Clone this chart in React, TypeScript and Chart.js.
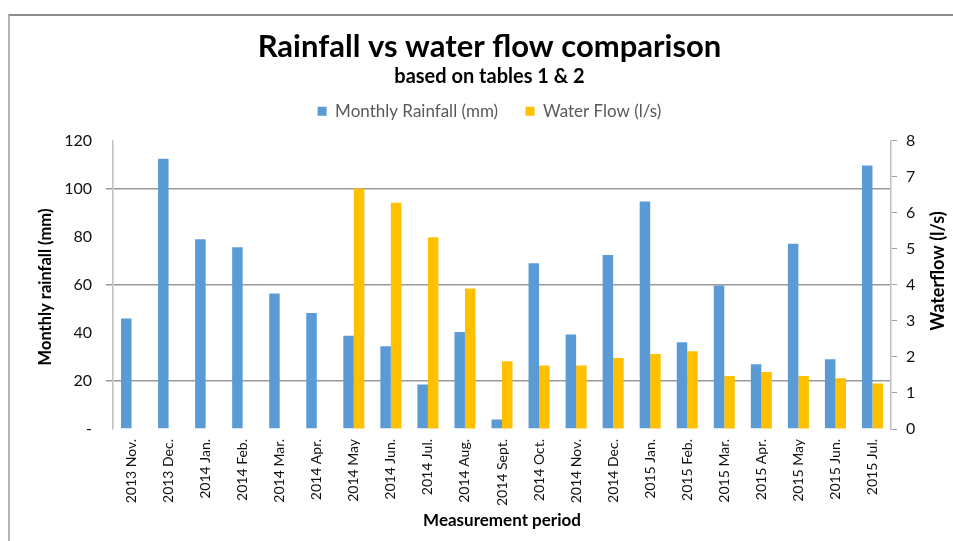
import React, { useEffect, useRef } from "react";
import { Chart, registerables, layouts } from "chart.js";

Chart.register(...registerables);

const categories = [
  "2013 Nov.", "2013 Dec.", "2014 Jan.", "2014 Feb.", "2014 Mar.", "2014 Apr.",
  "2014 May", "2014 Jun.", "2014 Jul.", "2014 Aug.", "2014 Sept.", "2014 Oct.",
  "2014 Nov.", "2014 Dec.", "2015 Jan.", "2015 Feb.", "2015 Mar.", "2015 Apr.",
  "2015 May", "2015 Jun.", "2015 Jul.",
];
const rainfall = [46, 112.5, 79, 75.6, 56.4, 48.3, 38.8, 34.4, 18.5, 40.4, 4.0, 69, 39.3, 72.4, 94.7, 36.1, 59.7, 26.9, 77.1, 29, 109.7];
const waterflow = [null, null, null, null, null, null, 6.67, 6.28, 5.32, 3.9, 1.88, 1.76, 1.76, 1.97, 2.08, 2.16, 1.47, 1.58, 1.47, 1.41, 1.26];
const leftGridValues = [20, 60, 100];

const titleText = "Rainfall vs water flow comparison";
const subtitleText = "based on tables 1 & 2";
const seriesNames = ["Monthly Rainfall (mm)", "Water Flow (l/s)"];
const leftAxisTitle = "Monthly rainfall (mm)";
const rightAxisTitle = "Waterflow (l/s)";
const xAxisTitle = "Measurement period";

const FONT = "Lato, 'Open Sans', sans-serif";

export default function App() {
  const ref = useRef<HTMLCanvasElement | null>(null);

  useEffect(() => {
    const canvas = ref.current;
    if (!canvas) return;

    // empty layout box between the legend and the plot area
    const spacer = {
      id: "spacer",
      start(chart: any) {
        const box: any = {
          options: {},
          position: "top",
          weight: 500,
          fullSize: true,
          left: 0, top: 0, right: 0, bottom: 0, width: 0, height: 0,
          isHorizontal() { return true; },
          update(maxWidth: number) { this.width = maxWidth; this.height = 11; },
          draw() {},
        };
        layouts.addBox(chart, box);
      },
    };

    const axisTitles = {
      id: "axisTitles",
      afterDraw(chart: any) {
        const { ctx, chartArea } = chart;
        ctx.save();
        ctx.fillStyle = "#000";
        ctx.textAlign = "center";
        ctx.textBaseline = "middle";
        ctx.save();
        ctx.font = `bold 16.5px ${FONT}`;
        ctx.translate(37, 287);
        ctx.rotate(-Math.PI / 2);
        ctx.fillText(leftAxisTitle, 0, 0);
        ctx.restore();
        ctx.save();
        ctx.font = `bold 18px ${FONT}`;
        ctx.translate(929, 271);
        ctx.rotate(-Math.PI / 2);
        ctx.fillText(rightAxisTitle, 0, 0);
        ctx.restore();
        ctx.font = `bold 17px ${FONT}`;
        ctx.fillText(xAxisTitle, (chartArea.left + chartArea.right) / 2, 521);
        ctx.restore();
      },
    };

    const chart = new Chart(canvas, {
      type: "bar",
      data: {
        labels: categories,
        datasets: [
          {
            label: seriesNames[0],
            data: rainfall,
            backgroundColor: "#5B9BD5",
            yAxisID: "y",
            categoryPercentage: 0.567,
            barPercentage: 1,
          },
          {
            label: seriesNames[1],
            data: waterflow as any,
            backgroundColor: "#FFC000",
            yAxisID: "y1",
            categoryPercentage: 0.567,
            barPercentage: 1,
          },
        ],
      },
      options: {
        responsive: false,
        animation: false,
        devicePixelRatio: 1,
        layout: { padding: 0 },
        plugins: {
          title: {
            display: true,
            text: titleText,
            color: "#000",
            font: { family: FONT, size: 31, weight: "bold", lineHeight: 1.15 },
            padding: { top: 29, bottom: 0 },
          },
          subtitle: {
            display: true,
            text: subtitleText,
            color: "#000",
            font: { family: FONT, size: 20, weight: "bold" },
            padding: { top: 0, bottom: 4 },
          },
          legend: {
            display: true,
            position: "top",
            labels: {
              color: "#595959",
              font: { family: FONT, size: 17 },
              boxWidth: 9,
              boxHeight: 9,
              padding: 10,
              generateLabels(chart: any) {
                const items = (Chart as any).defaults.plugins.legend.labels.generateLabels(chart);
                if (items[0]) items[0].text = items[0].text + "    ";
                items.forEach((it: any) => { it.lineWidth = 0; });
                return items;
              },
            },
          },
          tooltip: { enabled: false },
        },
        scales: {
          x: {
            grid: { display: false, drawTicks: false },
            border: { display: false },
            ticks: {
              color: "#111",
              font: { family: FONT, size: 14 },
              minRotation: 90,
              maxRotation: 90,
              autoSkip: false,
              padding: 10,
            },
            afterFit(scale: any) {
              scale.height = 112;
            },
          },
          y: {
            position: "left",
            min: 0,
            max: 120,
            ticks: {
              stepSize: 20,
              color: "#111",
              font: { family: FONT, size: 16 },
              padding: 14,
              callback: (v: any) => (v === 0 ? "-" : String(v)),
            },
            grid: {
              color: (c: any) => (leftGridValues.includes(c.tick?.value) ? "#9a9a9a" : "rgba(0,0,0,0)"),
              tickColor: (c: any) => (leftGridValues.includes(c.tick?.value) ? "#9a9a9a" : "rgba(0,0,0,0)"),
              lineWidth: 1.5,
              tickLength: 7,
            },
            border: { display: true, color: "#c0c0c0", width: 1.5 },
            afterFit(scale: any) {
              scale.width = 104;
            },
          },
          y1: {
            position: "right",
            min: 0,
            max: 8,
            ticks: {
              stepSize: 1,
              color: "#111",
              font: { family: FONT, size: 16 },
              padding: 9,
            },
            grid: { drawOnChartArea: false, color: "#a0a0a0", tickLength: 6 },
            border: { display: true, color: "#c0c0c0", width: 1.5 },
            afterFit(scale: any) {
              scale.width = 79;
            },
          },
        },
      },
      plugins: [spacer, axisTitles],
    });

    return () => chart.destroy();
  }, []);

  return (
    <div style={{ position: "fixed", left: 0, top: 0, width: 953, height: 541, overflow: "hidden", background: "#fff" }}>
      <div
        style={{
          position: "absolute",
          left: 8,
          top: 14,
          width: 1000,
          height: 600,
          borderTop: "2px solid #8c8c8c",
          borderLeft: "2px solid #b4b4b4",
        }}
      />
      <canvas ref={ref} width={961} height={541} style={{ position: "absolute", left: 9, top: 0, width: 961, height: 541 }} />
    </div>
  );
}
